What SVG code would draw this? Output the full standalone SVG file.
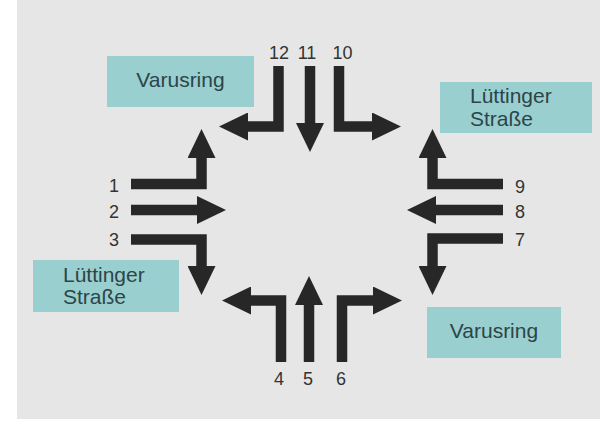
<svg xmlns="http://www.w3.org/2000/svg" width="600" height="423" viewBox="0 0 600 423">
  <defs>
    <marker id="ah" markerUnits="userSpaceOnUse" markerWidth="29" markerHeight="28" refX="1" refY="14" orient="auto" viewBox="0 0 29 28">
      <path d="M0,0 L29,14 L0,28 Z" fill="#272727"/>
    </marker>
    <style>
      .bg { fill: #e6e6e6; }
      .box { fill: #9acfd0; }
      .boxtxt { font-family: "Liberation Sans", Arial, sans-serif; font-size: 21px; fill: #2c4549; }
      .num { font-family: "Liberation Sans", Arial, sans-serif; font-size: 18px; fill: #333333; text-anchor: middle; }
      .arr { fill: none; stroke: #272727; stroke-width: 10.5; stroke-linejoin: miter; stroke-linecap: butt; marker-end: url(#ah); }
    </style>
  </defs>
  <rect x="0" y="0" width="600" height="423" fill="#ffffff"/>
  <rect class="bg" x="17" y="0" width="583" height="419"/>

  <g id="box-varusring-top">
    <rect class="box" x="107" y="56" width="147" height="51"/>
    <text class="boxtxt" x="180.5" y="87" text-anchor="middle">Varusring</text>
  </g>
  <g id="box-luettinger-top">
    <rect class="box" x="440" y="82" width="152" height="51"/>
    <text class="boxtxt" x="470" y="103">Lüttinger</text>
    <text class="boxtxt" x="470" y="126">Straße</text>
  </g>
  <g id="box-luettinger-left">
    <rect class="box" x="33" y="260" width="146" height="52"/>
    <text class="boxtxt" x="63" y="282">Lüttinger</text>
    <text class="boxtxt" x="63" y="304">Straße</text>
  </g>
  <g id="box-varusring-bottom">
    <rect class="box" x="427" y="307" width="134" height="51"/>
    <text class="boxtxt" x="494" y="338" text-anchor="middle">Varusring</text>
  </g>

  <g id="connectors">
    <polyline id="arrow-12" class="arr" points="278.5,66 278.5,126.5 247,126.5"/>
    <polyline id="arrow-11" class="arr" points="310,66 310,124"/>
    <polyline id="arrow-10" class="arr" points="339,66 339,126.5 373,126.5"/>
    <polyline id="arrow-4" class="arr" points="281,362 281,300.5 250,300.5"/>
    <polyline id="arrow-5" class="arr" points="309,362 309,304"/>
    <polyline id="arrow-6" class="arr" points="342,362 342,300.5 374,300.5"/>
    <polyline id="arrow-1" class="arr" points="131,184 201.5,184 201.5,157"/>
    <polyline id="arrow-2" class="arr" points="131,210 198,210"/>
    <polyline id="arrow-3" class="arr" points="131,239.5 201.5,239.5 201.5,267"/>
    <polyline id="arrow-9" class="arr" points="503,184 432.5,184 432.5,157"/>
    <polyline id="arrow-8" class="arr" points="503,210 435,210"/>
    <polyline id="arrow-7" class="arr" points="503,238.5 432.5,238.5 432.5,267"/>
  </g>

  <g id="labels">
    <text class="num" x="279" y="59">12</text>
    <text class="num" x="307" y="59">11</text>
    <text class="num" x="342.5" y="59">10</text>
    <text class="num" x="279" y="385">4</text>
    <text class="num" x="308" y="385">5</text>
    <text class="num" x="341" y="385">6</text>
    <text class="num" x="114" y="192">1</text>
    <text class="num" x="114" y="218">2</text>
    <text class="num" x="114" y="246">3</text>
    <text class="num" x="520" y="193">9</text>
    <text class="num" x="520" y="218">8</text>
    <text class="num" x="520" y="246">7</text>
  </g>
</svg>
